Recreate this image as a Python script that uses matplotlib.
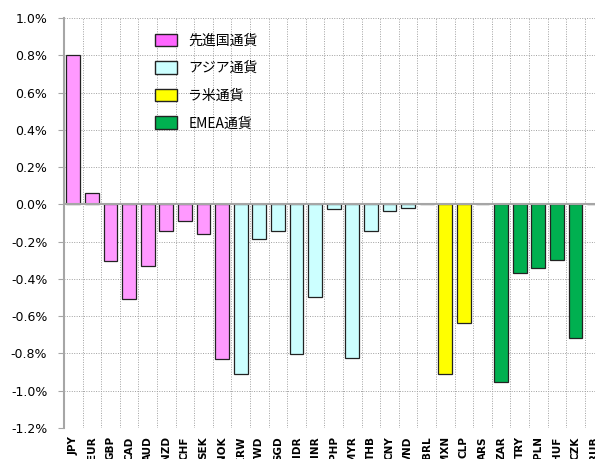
import matplotlib
matplotlib.use('Agg')
import matplotlib.pyplot as plt
from matplotlib.patches import Patch
from matplotlib.ticker import FuncFormatter
import numpy as np

plt.rcParams['font.family'] = ['Noto Sans CJK JP', 'DejaVu Sans']

# currencies and values (%)
developed = ['JPY', 'EUR', 'GBP', 'CAD', 'AUD', 'NZD', 'CHF', 'SEK', 'NOK']
developed_vals = [0.80, 0.063, -0.306, -0.51, -0.33, -0.141, -0.091, -0.157, -0.83]
asia = ['KRW', 'TWD', 'SGD', 'IDR', 'INR', 'PHP', 'MYR', 'THB', 'CNY', 'VND']
asia_vals = [-0.91, -0.184, -0.143, -0.803, -0.495, -0.025, -0.824, -0.145, -0.037, -0.021]
latam = ['BRL', 'MXN', 'CLP', 'ARS']
latam_vals = [0.0, -0.91, -0.638, 0.0]
emea = ['ZAR', 'TRY', 'PLN', 'HUF', 'CZK', 'RUB']
emea_vals = [-0.951, -0.366, -0.34, -0.297, -0.717, 0.0]

group_names = ['先進国通貨', 'アジア通貨', 'ラ米通貨', 'EMEA通貨']
bar_colors = ['#FF99FF', '#CCFFFF', '#FFFF00', '#00B050']
legend_colors = ['#FF66FF', '#CCFFFF', '#FFFF00', '#00B050']

groups = [(developed, developed_vals), (asia, asia_vals), (latam, latam_vals), (emea, emea_vals)]
labels = developed + asia + latam + emea

fig = plt.figure(figsize=(5.95, 4.59), dpi=100)
ax = fig.add_axes([0.1076, 0.0675, 0.9066, 0.8932])

start = 0
for (names, vals), color in zip(groups, bar_colors):
    x = np.arange(start, start + len(names))
    ax.bar(x, vals, width=0.74, color=color, edgecolor='#222222', linewidth=0.9, zorder=2)
    start += len(names)

ax.axhline(0, color='#A6A6A6', linewidth=1.5, zorder=3)

ax.set_xlim(-0.5, len(labels) - 0.5)
ax.set_ylim(-1.2, 1.0)
ax.set_yticks(np.arange(-1.2, 1.01, 0.2))
ax.yaxis.set_major_formatter(FuncFormatter(lambda v, p: f'{round(v, 1) + 0.0:.1f}%'))

ax.set_xticks(np.arange(len(labels)))
ax.set_xticklabels(labels, rotation=90, fontsize=7.5, fontweight='bold', family='DejaVu Sans')
ax.set_xticks(np.arange(len(labels) + 1) - 0.5, minor=True)
ax.tick_params(axis='x', which='both', length=0, pad=6)
ax.tick_params(axis='y', length=4, color='#A6A6A6', pad=8, labelsize=9)
for t in ax.get_yticklabels():
    t.set_family('DejaVu Sans')

grid_style = dict(color='#A0A0A0', linestyle=(0, (1, 1.5)), linewidth=0.7, zorder=0)
ax.grid(axis='y', which='major', **grid_style)
ax.grid(axis='x', which='minor', **grid_style)
ax.set_axisbelow(True)

for s in ['top', 'right', 'bottom']:
    ax.spines[s].set_visible(False)
ax.spines['left'].set_color('#A6A6A6')
ax.spines['left'].set_linewidth(1.5)

handles = [Patch(facecolor=c, edgecolor='#222222', linewidth=1.0) for c in legend_colors]
ax.legend(handles, group_names, loc='upper left', bbox_to_anchor=(0.169, 0.962),
          frameon=False, fontsize=10, handlelength=1.58, handleheight=1.0,
          handletextpad=0.81, labelspacing=0.98, borderpad=0, borderaxespad=0)

fig.savefig('out.png', dpi=100)
